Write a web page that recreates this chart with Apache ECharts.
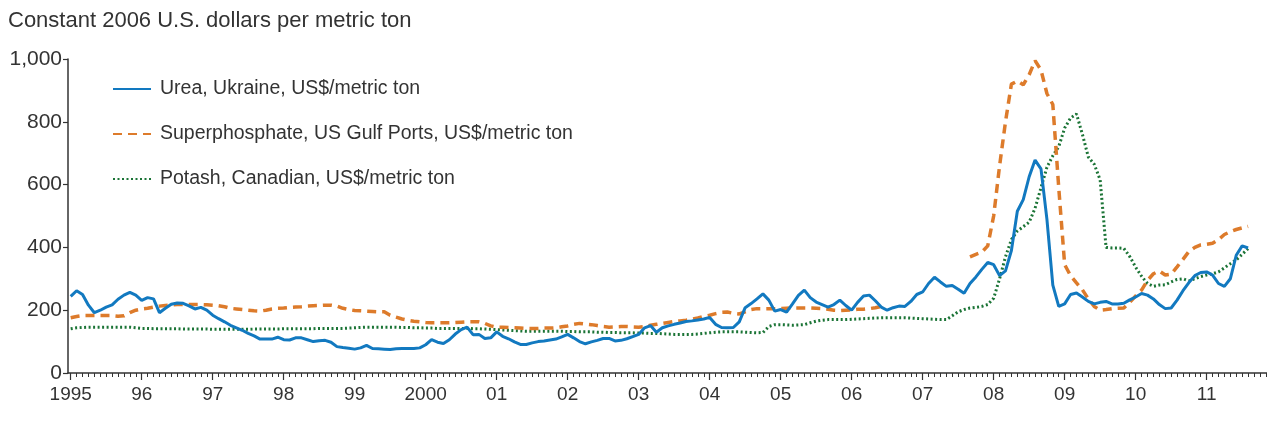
<!DOCTYPE html>
<html><head><meta charset="utf-8">
<script src="https://cdn.jsdelivr.net/npm/echarts@6/dist/echarts.min.js"></script>
<style>html,body{margin:0;padding:0;background:#fff}#c{width:1267px;height:433px}</style>
</head><body><div id="c"></div>
<script>
const titleText = 'Constant 2006 U.S. dollars per metric ton';
const startYear = 1995;
const yearTicks = [1995,1996,1997,1998,1999,2000,2001,2002,2003,2004,2005,2006,2007,2008,2009,2010,2011];
const yearLabels = ['1995','96','97','98','99','2000','01','02','03','04','05','06','07','08','09','10','11'];
const yTicks = [0,200,400,600,800,1000];
const seriesNames = ['Urea, Ukraine, US$/metric ton','Superphosphate, US Gulf Ports, US$/metric ton','Potash, Canadian, US$/metric ton'];

// monthly values, Jan 1995 - Aug 2011
const urea = [
244,262,250,216,192,200,210,217,235,248,257,248,
231,240,236,192,206,219,223,222,214,204,209,200,
184,173,163,152,144,136,126,118,108,108,108,114,
106,105,112,112,106,100,103,104,98,84,81,79,
76,80,88,78,77,76,75,77,78,78,78,80,
90,106,98,94,106,124,138,146,122,123,110,112,
131,117,109,99,91,91,96,100,102,105,108,115,
123,112,100,93,99,104,110,110,102,104,109,116,
123,144,151,130,144,150,155,159,164,166,169,172,
177,155,145,144,145,163,208,221,236,252,232,197,
202,194,220,247,264,240,226,218,210,218,232,215,
200,225,245,248,230,210,200,208,213,212,228,250,
258,285,305,290,276,279,267,254,285,306,330,352,
345,310,325,390,515,552,625,678,650,490,280,212,
220,250,255,242,228,220,225,228,220,220,222,233,
242,253,248,236,218,205,207,232,262,288,310,320,
322,312,285,276,300,375,405,398
];
const superphosphate = [
176,180,183,183,183,183,183,183,181,182,192,200,
204,206,210,213,215,217,218,218,218,218,218,217,
216,214,211,206,204,202,200,198,197,200,204,206,
207,209,210,211,213,214,215,216,216,213,206,202,
199,198,197,196,195,195,184,178,172,168,165,163,
161,160,160,160,160,161,162,163,163,163,158,150,
146,146,145,144,143,142,142,142,143,143,144,147,
150,155,158,156,154,151,148,146,147,148,148,147,
146,148,152,155,158,161,164,166,168,171,175,180,
184,189,193,194,190,188,195,202,205,205,205,205,
205,206,207,207,207,207,206,205,203,200,199,200,
201,203,203,205,208,212,null,null,null,null,null,null,
null,null,null,null,null,null,null,null,370,378,385,405,
500,660,800,920,930,918,950,995,965,890,855,590,
345,310,287,265,236,212,200,202,205,206,207,225,
245,264,295,316,325,312,315,338,362,387,400,408,
410,413,425,441,450,457,462,467
];
const potash = [
141,144,145,146,146,146,146,146,146,146,146,144,
142,142,141,141,141,141,141,140,140,140,140,140,
139,139,139,139,139,139,139,140,140,140,140,140,
141,141,141,141,141,141,142,142,142,142,142,143,
144,145,146,146,146,146,146,146,145,145,144,144,
143,143,142,142,142,142,142,142,141,141,140,139,
138,137,136,135,134,133,133,133,133,133,133,133,
132,132,131,131,131,130,130,129,129,128,128,128,
127,127,126,126,125,124,123,123,123,123,124,126,
128,130,131,131,131,131,130,129,128,129,148,154,
154,153,152,153,154,160,165,168,170,170,170,170,
171,172,173,174,175,176,176,176,176,176,175,174,
173,172,171,170,170,182,195,202,207,209,212,218,
238,300,370,425,452,466,480,525,590,655,692,721,
780,812,825,760,688,665,615,400,398,398,397,371,
337,308,285,276,280,281,290,298,300,293,300,307,
312,316,322,335,348,360,378,396
];

function toPairs(vals){ return vals.map((v,i)=>[startYear + i/12, v]); }
const xMin = 1994.962, xMax = 2011.85;
const monthTicks = [];
for (let k = 0; startYear + k/12 <= xMax; k++) monthTicks.push(startYear + k/12);

const FONT = 'Liberation Sans, Arial, Helvetica, sans-serif';
const TXT = '#333333';
const chart = echarts.init(document.getElementById('c'), null, {renderer:'canvas'});
chart.setOption({
  animation: false,
  backgroundColor: '#ffffff',
  title: { text: titleText, left: 8, top: 10, padding: 0, textStyle: { fontFamily: FONT, fontSize: 22, fontWeight: 'normal', color: TXT } },
  legend: {
    orient: 'vertical', left: 112, top: 79, padding: 0, itemWidth: 38, itemHeight: 20, itemGap: 25,
    itemStyle: { opacity: 0 },
    textStyle: { fontFamily: FONT, fontSize: 19.5, color: TXT, padding: [0,0,0,4] },
    data: seriesNames
  },
  grid: { left: 68, right: 0, top: 59, bottom: 60, containLabel: false },
  xAxis: [{
    type: 'value', min: xMin, max: xMax, position: 'bottom',
    axisLine: { show: true, lineStyle: { color: '#333', width: 1.5 } },
    axisTick: { show: true, length: 7, customValues: yearTicks, lineStyle: { color: '#333', width: 1.2 } },
    axisLabel: { show: true, customValues: yearTicks, margin: 12, fontFamily: FONT, fontSize: 19, color: TXT,
      formatter: v => yearLabels[yearTicks.indexOf(Math.round(v))] },
    splitLine: { show: false }
  }, {
    type: 'value', min: xMin, max: xMax, position: 'bottom',
    axisLine: { show: false },
    axisTick: { show: true, length: 4, customValues: monthTicks, lineStyle: { color: '#333', width: 1 } },
    axisLabel: { show: false },
    splitLine: { show: false }
  }],
  yAxis: {
    type: 'value', min: 0, max: 1000, interval: 200,
    axisLine: { show: true, lineStyle: { color: '#333', width: 1.5 } },
    axisTick: { show: true, length: 5, lineStyle: { color: '#333', width: 1.2 } },
    axisLabel: { margin: 6, fontFamily: FONT, fontSize: 21, color: TXT, formatter: v => v.toLocaleString('en-US') },
    splitLine: { show: false }
  },
  series: [
    { name: seriesNames[0], type: 'line', xAxisIndex: 0, data: toPairs(urea), symbol: 'none', z: 4,
      lineStyle: { color: '#1279c0', width: 3 }, itemStyle: { color: '#1279c0' } },
    { name: seriesNames[1], type: 'line', xAxisIndex: 0, data: toPairs(superphosphate), symbol: 'none', connectNulls: false, z: 3,
      lineStyle: { color: '#dd7b2b', width: 3.5, type: [9,6] }, itemStyle: { color: '#dd7b2b' } },
    { name: seriesNames[2], type: 'line', xAxisIndex: 0, data: toPairs(potash), symbol: 'none', z: 2,
      lineStyle: { color: '#1b7436', width: 3, type: [2,2.5] }, itemStyle: { color: '#1b7436' } }
  ]
});
</script>
</body></html>
